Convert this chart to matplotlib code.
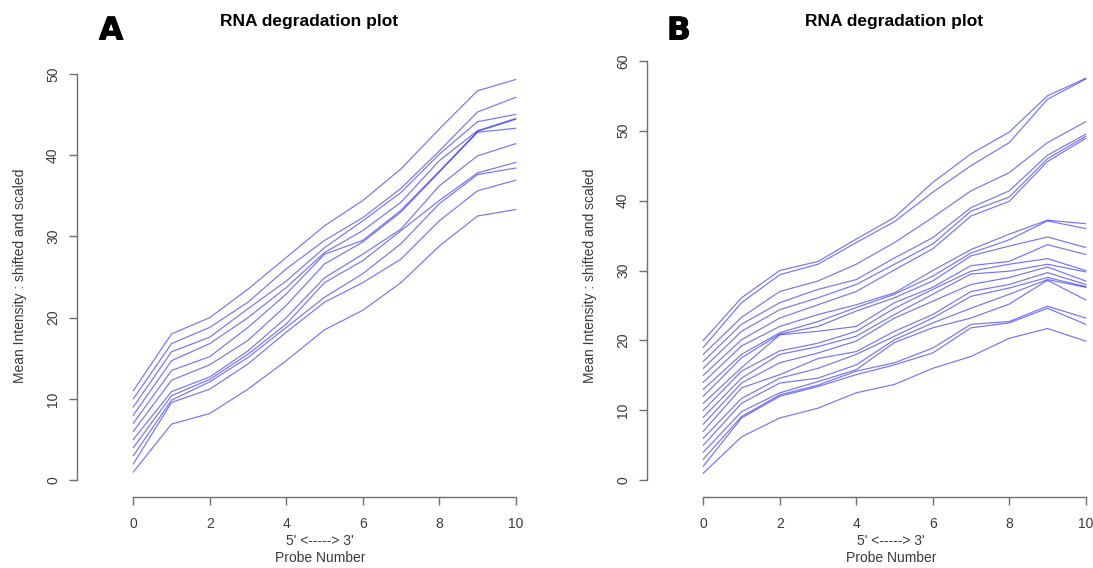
import matplotlib

matplotlib.use("Agg")
import matplotlib.patheffects as pe
import matplotlib.pyplot as plt

plt.rcParams["font.family"] = ["Liberation Sans", "DejaVu Sans"]

probe = list(range(11))
x_ticks = [0, 2, 4, 6, 8, 10]
a_yticks = [0, 10, 20, 30, 40, 50]
b_yticks = [0, 10, 20, 30, 40, 50, 60]

# panel A, one row per chip (shifted and scaled mean intensity per probe position)
panel_a = [
    [11, 18.0, 20.0, 23.5, 27.4, 31.3, 34.4, 38.3, 43.2, 47.9, 49.3],
    [10, 16.8, 18.8, 21.9, 26.0, 29.5, 32.3, 35.9, 40.5, 45.3, 47.1],
    [9, 15.8, 17.6, 21.1, 24.5, 28.6, 31.9, 35.4, 40.1, 44.1, 45.0],
    [8, 14.7, 16.8, 20.0, 23.7, 28.0, 30.7, 34.2, 39.3, 43.0, 44.5],
    [7, 13.5, 15.2, 18.8, 22.9, 27.8, 29.5, 33.2, 38.0, 42.9, 44.4],
    [6, 12.3, 14.2, 17.2, 21.5, 26.6, 29.3, 33.0, 37.9, 42.8, 43.3],
    [5, 10.9, 12.7, 15.9, 20.0, 24.9, 27.8, 30.9, 36.2, 39.9, 41.4],
    [4, 10.4, 12.4, 15.5, 19.2, 24.3, 27.0, 30.7, 34.4, 37.8, 39.1],
    [3, 9.85, 12.1, 15.1, 18.8, 22.5, 25.4, 29.1, 34.0, 37.6, 38.4],
    [2, 9.56, 11.2, 14.3, 18.2, 21.9, 24.3, 27.2, 31.9, 35.6, 36.9],
    [1, 6.9, 8.2, 11.2, 14.7, 18.5, 20.9, 24.3, 28.8, 32.5, 33.3],
]

# panel B
panel_b = [
    [20, 26.1, 30.0, 31.3, 34.5, 37.6, 42.6, 46.7, 49.8, 55.0, 57.5],
    [19, 25.4, 29.4, 30.9, 34.0, 37.0, 41.2, 45.0, 48.3, 54.5, 57.4],
    [18, 23.3, 27.0, 28.5, 30.9, 34.0, 37.6, 41.4, 44.0, 48.3, 51.3],
    [17, 22.3, 25.4, 27.3, 28.7, 31.8, 34.7, 39.0, 41.4, 46.5, 49.5],
    [16, 21.3, 24.4, 26.1, 28.0, 30.9, 33.8, 38.5, 40.5, 46.0, 49.2],
    [15, 20.1, 23.2, 25.1, 27.0, 30.1, 33.1, 37.8, 39.9, 45.6, 48.9],
    [14, 19.2, 22.0, 23.7, 25.1, 26.8, 30.0, 33.0, 35.2, 37.2, 36.7],
    [13, 18.0, 21.1, 22.7, 24.7, 26.6, 29.2, 32.5, 34.4, 37.1, 36.0],
    [12, 17.5, 20.9, 22.0, 24.2, 26.1, 28.5, 32.1, 33.5, 34.8, 33.3],
    [11, 16.1, 20.8, 21.3, 22.0, 25.4, 27.6, 30.7, 31.3, 33.7, 32.3],
    [10, 15.6, 18.5, 19.6, 21.3, 24.6, 27.3, 29.9, 30.9, 31.7, 30.0],
    [9, 14.6, 18.0, 19.1, 20.6, 23.7, 26.6, 29.5, 29.9, 30.9, 29.8],
    [8, 13.9, 16.8, 18.2, 19.9, 23.2, 25.6, 28.0, 29.0, 30.5, 28.5],
    [7, 13.2, 15.1, 17.4, 18.4, 21.3, 23.7, 27.0, 28.0, 29.7, 28.0],
    [6, 11.7, 14.6, 16.0, 18.0, 20.6, 23.2, 26.3, 27.5, 29.0, 27.7],
    [5, 11.0, 13.9, 14.6, 16.5, 20.1, 22.5, 24.6, 26.6, 28.7, 27.6],
    [4, 9.8, 12.5, 14.1, 15.8, 19.7, 21.8, 23.2, 25.2, 28.6, 25.8],
    [3, 9.1, 12.2, 13.6, 15.6, 16.8, 18.9, 22.3, 22.7, 24.9, 23.2],
    [2, 8.9, 12.0, 13.4, 15.1, 16.5, 18.2, 21.8, 22.5, 24.6, 22.3],
    [1, 6.2, 8.9, 10.3, 12.5, 13.7, 16.0, 17.7, 20.3, 21.7, 19.9],
]

W, H = 1093, 568
AXIS_GREY = "#707070"
TEXT_GREY = "#3a3a3a"


def px_rect(left, top, right, bottom):
    return [left / W, 1 - bottom / H, (right - left) / W, (bottom - top) / H]


def r_range(lo, hi):
    # R's default 4% axis extension
    pad = 0.04 * (hi - lo)
    return lo - pad, hi + pad


def draw_panel(ax, lines, yticks):
    for row in lines:
        ax.plot(probe, row, color="#0000ff", lw=0.85, alpha=0.55)

    lo = min(min(r) for r in lines) - 1
    hi = max(max(r) for r in lines) + 1
    ax.set_xlim(*r_range(-1, len(probe)))
    ax.set_ylim(*r_range(lo, hi))

    for side in ("top", "right"):
        ax.spines[side].set_visible(False)
    for side in ("left", "bottom"):
        ax.spines[side].set_color(AXIS_GREY)
        ax.spines[side].set_linewidth(1.0)
    ax.spines["bottom"].set_bounds(x_ticks[0], x_ticks[-1])
    ax.spines["left"].set_bounds(yticks[0], yticks[-1])

    ax.set_xticks(x_ticks)
    ax.set_yticks(yticks)
    ax.tick_params(direction="out", length=6, width=1.0, color=AXIS_GREY,
                   labelcolor=TEXT_GREY, labelsize=10)
    ax.tick_params(axis="x", pad=9)
    ax.tick_params(axis="y", pad=6, labelrotation=90)
    for lab in ax.get_yticklabels():
        lab.set_va("center")
    ax.set_facecolor("none")


fig = plt.figure(figsize=(W / 100, H / 100), dpi=100)
fig.patch.set_facecolor("white")

ax_a = fig.add_axes(px_rect(76.7, 55, 572.3, 496.5))
ax_b = fig.add_axes(px_rect(646.7, 55, 1142.3, 496.5))
draw_panel(ax_a, panel_a, a_yticks)
draw_panel(ax_b, panel_b, b_yticks)

for letter, x in (("A", 99), ("B", 667)):
    fig.text(x / W, 1 - 39.5 / H, letter, fontsize=22.5, fontweight="bold",
             family="DejaVu Sans", ha="left", va="baseline", color="black",
             path_effects=[pe.withStroke(linewidth=0.7, foreground="black")])

for cx in (309, 894.5):
    fig.text(cx / W, 1 - 26 / H, "RNA degradation plot", fontsize=12.5,
             fontweight="bold", ha="center", va="baseline", color="black")

for cx_axis, cx_lab in ((20, 320), (590, 891)):
    fig.text(cx_axis / W, 1 - 276 / H, "Mean Intensity : shifted and scaled",
             rotation=90, fontsize=10, ha="center", va="center", color=TEXT_GREY)
    fig.text(cx_lab / W, 1 - 545 / H, "5' <-----> 3'", fontsize=10,
             ha="center", va="baseline", color=TEXT_GREY)
    fig.text(cx_lab / W, 1 - 562 / H, "Probe Number", fontsize=10,
             ha="center", va="baseline", color=TEXT_GREY)

fig.savefig("out.png", dpi=100)
